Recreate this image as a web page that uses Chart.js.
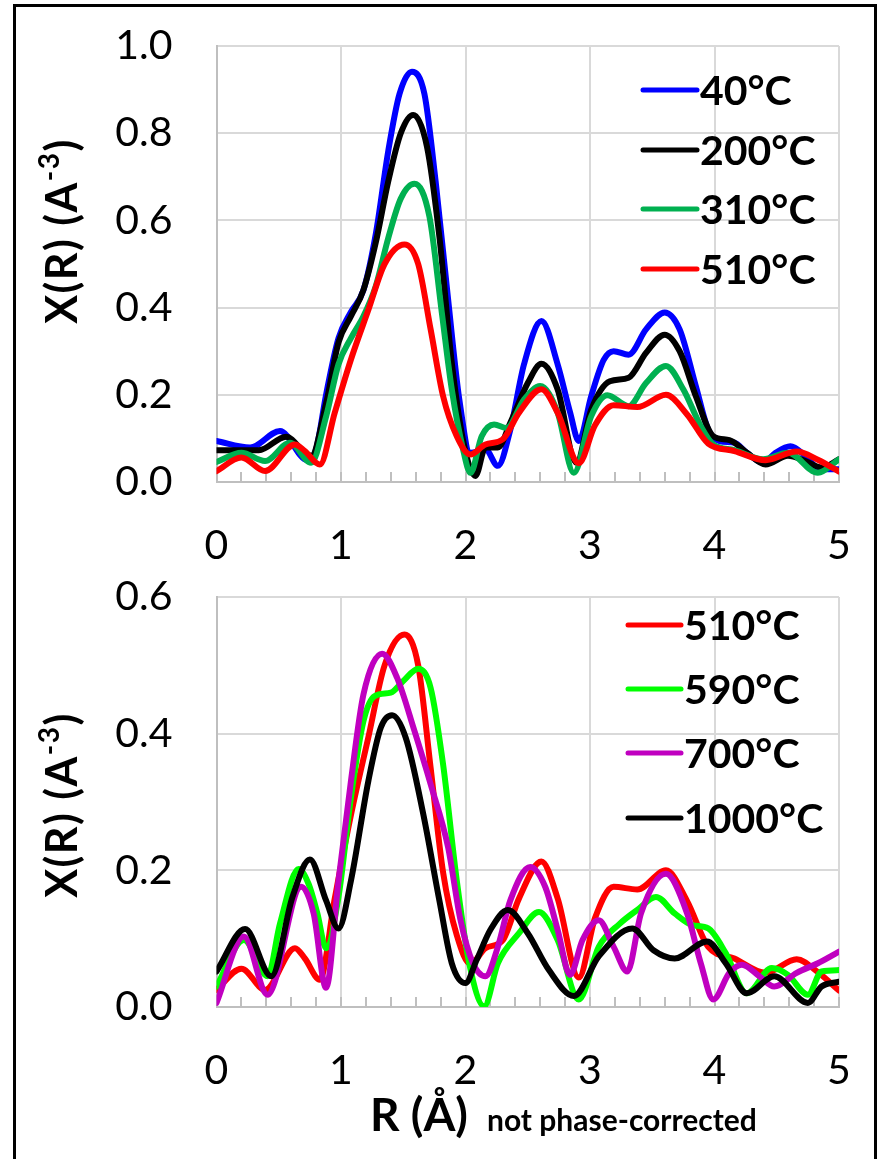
<!DOCTYPE html>
<html>
<head>
<meta charset="utf-8">
<title>X(R) vs R</title>
<script src="https://cdn.jsdelivr.net/npm/chart.js@4.4.0/dist/chart.umd.min.js"></script>
<style>
  html, body { margin: 0; padding: 0; background: #fff; }
  #page { position: relative; width: 879px; height: 1159px; overflow: hidden; background: #fff; }
  #frame { position: absolute; left: 13px; top: 4px; width: 858px; height: 1200px; border: 3px solid #000; }
  .box { position: absolute; left: 0; width: 879px; }
  #top { top: 0; height: 590px; }
  #bot { top: 560px; height: 599px; }
</style>
</head>
<body>
<div id="page">
  <div id="frame"></div>
  <div class="box" id="top"><canvas id="c1" width="879" height="590"></canvas></div>
  <div class="box" id="bot"><canvas id="c2" width="879" height="599"></canvas></div>
</div>
<script>
// R (Å) , X(R) pairs
const s40 = [[0,0.094],[0.27,0.079],[0.51,0.117],[0.73,0.05],[0.80,0.075],[0.88,0.20],[0.98,0.33],[1.08,0.39],[1.18,0.44],[1.28,0.57],[1.38,0.76],[1.47,0.89],[1.57,0.941],[1.67,0.89],[1.76,0.69],[1.86,0.42],[1.95,0.19],[2.04,0.067],[2.16,0.075],[2.26,0.037],[2.36,0.12],[2.47,0.27],[2.61,0.369],[2.74,0.27],[2.84,0.16],[2.91,0.094],[3.01,0.197],[3.11,0.28],[3.19,0.30],[3.31,0.292],[3.45,0.35],[3.60,0.389],[3.72,0.35],[3.85,0.22],[3.95,0.12],[4.04,0.094],[4.16,0.09],[4.26,0.067],[4.39,0.044],[4.49,0.067],[4.61,0.082],[4.73,0.06],[4.85,0.029],[5.0,0.029]];
const s200 = [[0,0.073],[0.34,0.073],[0.56,0.104],[0.71,0.067],[0.76,0.06],[0.88,0.18],[0.98,0.32],[1.08,0.38],[1.18,0.44],[1.28,0.55],[1.38,0.69],[1.48,0.80],[1.58,0.842],[1.69,0.77],[1.79,0.563],[1.89,0.273],[1.99,0.082],[2.08,0.014],[2.16,0.079],[2.26,0.079],[2.36,0.136],[2.50,0.227],[2.61,0.271],[2.74,0.212],[2.89,0.044],[3.01,0.166],[3.16,0.231],[3.31,0.239],[3.45,0.296],[3.60,0.338],[3.72,0.30],[3.85,0.197],[3.99,0.105],[4.12,0.096],[4.26,0.067],[4.41,0.04],[4.59,0.06],[4.73,0.048],[4.86,0.033],[5.0,0.052]];
const s310 = [[0,0.046],[0.20,0.067],[0.39,0.048],[0.59,0.09],[0.76,0.044],[0.88,0.15],[0.98,0.27],[1.08,0.33],[1.18,0.38],[1.28,0.45],[1.38,0.56],[1.48,0.65],[1.59,0.684],[1.71,0.609],[1.81,0.388],[1.89,0.212],[1.98,0.075],[2.04,0.021],[2.13,0.105],[2.23,0.132],[2.33,0.124],[2.47,0.189],[2.60,0.22],[2.74,0.159],[2.87,0.021],[3.01,0.151],[3.14,0.199],[3.31,0.174],[3.45,0.227],[3.61,0.266],[3.75,0.212],[3.89,0.128],[3.99,0.086],[4.16,0.073],[4.39,0.052],[4.59,0.067],[4.83,0.021],[5.0,0.052]];
const s510 = [[0,0.025],[0.20,0.056],[0.39,0.025],[0.63,0.086],[0.71,0.071],[0.83,0.04],[0.95,0.159],[1.08,0.281],[1.22,0.395],[1.35,0.50],[1.51,0.545],[1.62,0.50],[1.72,0.35],[1.82,0.197],[1.93,0.105],[2.04,0.063],[2.16,0.086],[2.30,0.098],[2.43,0.159],[2.61,0.213],[2.74,0.159],[2.91,0.043],[3.04,0.13],[3.19,0.176],[3.38,0.172],[3.61,0.200],[3.78,0.155],[3.95,0.088],[4.16,0.071],[4.41,0.05],[4.66,0.07],[4.83,0.051],[5.0,0.024]];
const s590 = [[0,0.03],[0.22,0.098],[0.41,0.045],[0.51,0.122],[0.66,0.202],[0.74,0.18],[0.81,0.137],[0.88,0.086],[0.98,0.161],[1.08,0.307],[1.18,0.418],[1.27,0.455],[1.40,0.46],[1.50,0.477],[1.62,0.495],[1.72,0.467],[1.82,0.355],[1.93,0.185],[2.03,0.064],[2.15,0.001],[2.26,0.064],[2.43,0.108],[2.59,0.139],[2.74,0.098],[2.91,0.011],[3.07,0.088],[3.24,0.122],[3.38,0.142],[3.53,0.161],[3.68,0.137],[3.82,0.12],[3.95,0.115],[4.09,0.079],[4.26,0.02],[4.46,0.057],[4.59,0.047],[4.75,0.018],[4.86,0.052],[5.0,0.054]];
const s700 = [[0,0.006],[0.22,0.103],[0.41,0.018],[0.68,0.176],[0.78,0.137],[0.88,0.028],[0.98,0.185],[1.08,0.331],[1.18,0.457],[1.33,0.517],[1.45,0.482],[1.59,0.404],[1.72,0.326],[1.86,0.234],[1.96,0.127],[2.06,0.064],[2.16,0.045],[2.26,0.088],[2.36,0.156],[2.52,0.205],[2.64,0.176],[2.74,0.113],[2.84,0.047],[2.94,0.098],[3.07,0.127],[3.19,0.088],[3.30,0.052],[3.41,0.137],[3.61,0.195],[3.78,0.137],[3.89,0.064],[3.99,0.011],[4.12,0.05],[4.22,0.062],[4.36,0.045],[4.48,0.03],[4.66,0.05],[4.83,0.064],[5.0,0.081]];
const s1000 = [[0,0.052],[0.23,0.114],[0.44,0.045],[0.61,0.161],[0.75,0.216],[0.88,0.156],[0.98,0.115],[1.08,0.185],[1.22,0.331],[1.32,0.409],[1.41,0.427],[1.52,0.394],[1.66,0.283],[1.79,0.156],[1.89,0.064],[2.0,0.035],[2.09,0.069],[2.20,0.113],[2.34,0.142],[2.50,0.108],[2.67,0.054],[2.87,0.016],[3.07,0.074],[3.34,0.115],[3.51,0.083],[3.68,0.071],[3.94,0.096],[4.09,0.064],[4.26,0.02],[4.48,0.045],[4.75,0.006],[4.86,0.03],[5.0,0.037]];

const topLabels = ['40°C', '200°C', '310°C', '510°C'];
const topColors = ['#0000ff', '#000000', '#00b050', '#ff0000'];
const botLabels = ['510°C', '590°C', '700°C', '1000°C'];
const botColors = ['#ff0000', '#00ff00', '#c000c0', '#000000'];

const rRange = [0, 5];
const topYMax = 1.0;
const botYMax = 0.6;
const tickStep = 0.2;

const isInt = v => Math.abs(v - Math.round(v)) < 1e-6;

// legend, axis titles
const extras = {
  id: 'extras',
  afterDraw(chart, args, o) {
    const ctx = chart.ctx;
    ctx.save();
    chart.data.datasets.forEach((ds, i) => {
      const y = o.legendY[i];
      ctx.strokeStyle = ds.borderColor;
      ctx.lineWidth = 5;
      ctx.lineCap = 'round';
      ctx.beginPath();
      ctx.moveTo(o.legendX0, y);
      ctx.lineTo(o.legendX1, y);
      ctx.stroke();
      ctx.fillStyle = '#000';
      ctx.font = 'bold 41px Lato';
      ctx.textAlign = 'left';
      ctx.textBaseline = 'middle';
      ctx.fillText(ds.label, o.legendX1 + 3, y + 2);
    });

    // y title, rotated, with superscript
    ctx.save();
    ctx.translate(o.yTitleX, o.yTitleY);
    ctx.rotate(-Math.PI / 2);
    ctx.letterSpacing = '1.5px';
    const main = 'bold 43px Lato', sup = 'bold 28px Lato';
    ctx.font = main; const w1 = ctx.measureText('X(R) (A').width; const w3 = ctx.measureText(')').width;
    ctx.font = sup; const w2 = ctx.measureText('-3').width;
    let x = -(w1 + w2 + w3) / 2;
    ctx.fillStyle = '#000';
    ctx.textAlign = 'left';
    ctx.textBaseline = 'middle';
    ctx.font = main; ctx.fillText('X(R) (A', x, 0); x += w1;
    ctx.font = sup; ctx.fillText('-3', x, -13); x += w2;
    ctx.font = main; ctx.fillText(')', x, 0);
    ctx.restore();

    if (o.xTitle) {
      ctx.fillStyle = '#000';
      ctx.textAlign = 'left';
      ctx.textBaseline = 'alphabetic';
      ctx.font = 'bold 46px Lato';
      ctx.fillText('R (Å)', o.xTitleX, o.xTitleY);
      ctx.font = 'bold 30px Lato';
      ctx.fillText('not phase-corrected', o.xTitleX + 117, o.xTitleY);
    }
    ctx.restore();
  }
};

function makeChart(id, sets, labels, colors, yMax, padTop, xHeight, ex) {
  return new Chart(document.getElementById(id), {
    type: 'line',
    data: {
      datasets: sets.map((s, i) => ({
        label: labels[i],
        data: s.map(p => ({ x: p[0], y: p[1] })),
        borderColor: colors[i],
        backgroundColor: colors[i],
        order: sets.length - i
      }))
    },
    options: {
      responsive: false,
      animation: false,
      layout: { padding: { left: 0, right: 40, top: padTop, bottom: 0 } },
      elements: {
        point: { radius: 0 },
        line: { borderWidth: 6, tension: 0.4, cubicInterpolationMode: 'monotone', borderCapStyle: 'round', borderJoinStyle: 'round', fill: false }
      },
      plugins: { legend: { display: false }, tooltip: { enabled: false }, extras: ex },
      scales: {
        x: {
          type: 'linear', min: rRange[0], max: rRange[1],
          afterFit: s => { s.height = xHeight; s.paddingLeft = 0; s.paddingRight = 0; },
          border: { color: '#bfbfbf', width: 2 },
          grid: {
            color: c => isInt(c.tick.value) ? '#d9d9d9' : 'rgba(0,0,0,0)',
            lineWidth: 2, drawTicks: true, tickLength: -10, tickColor: '#bfbfbf', tickWidth: 2
          },
          ticks: {
            stepSize: tickStep, autoSkip: false, maxRotation: 0, padding: 49,
            font: { family: 'Lato', size: 41 }, color: '#000',
            callback: v => isInt(v) ? String(Math.round(v)) : ''
          }
        },
        y: {
          min: 0, max: yMax,
          afterFit: s => { s.width = 216.5; s.paddingTop = 0; s.paddingBottom = 0; },
          border: { color: '#bfbfbf', width: 2 },
          grid: { color: '#d9d9d9', lineWidth: 2, drawTicks: false },
          ticks: {
            stepSize: tickStep, padding: 44,
            font: { family: 'Lato', size: 41 }, color: '#000',
            callback: v => v.toFixed(1)
          }
        }
      }
    },
    plugins: [extras]
  });
}

makeChart('c1', [s40, s200, s310, s510], topLabels, topColors, topYMax, 46, 108, {
  legendX0: 643, legendX1: 697, legendY: [90, 150, 209, 269],
  yTitleX: 63, yTitleY: 231, xTitle: false
});
makeChart('c2', [s510, s590, s700, s1000], botLabels, botColors, botYMax, 37, 152, {
  legendX0: 628, legendX1: 681, legendY: [65, 129, 193, 258],
  yTitleX: 63, yTitleY: 245, xTitle: true, xTitleX: 370, xTitleY: 571
});
</script>
</body>
</html>
